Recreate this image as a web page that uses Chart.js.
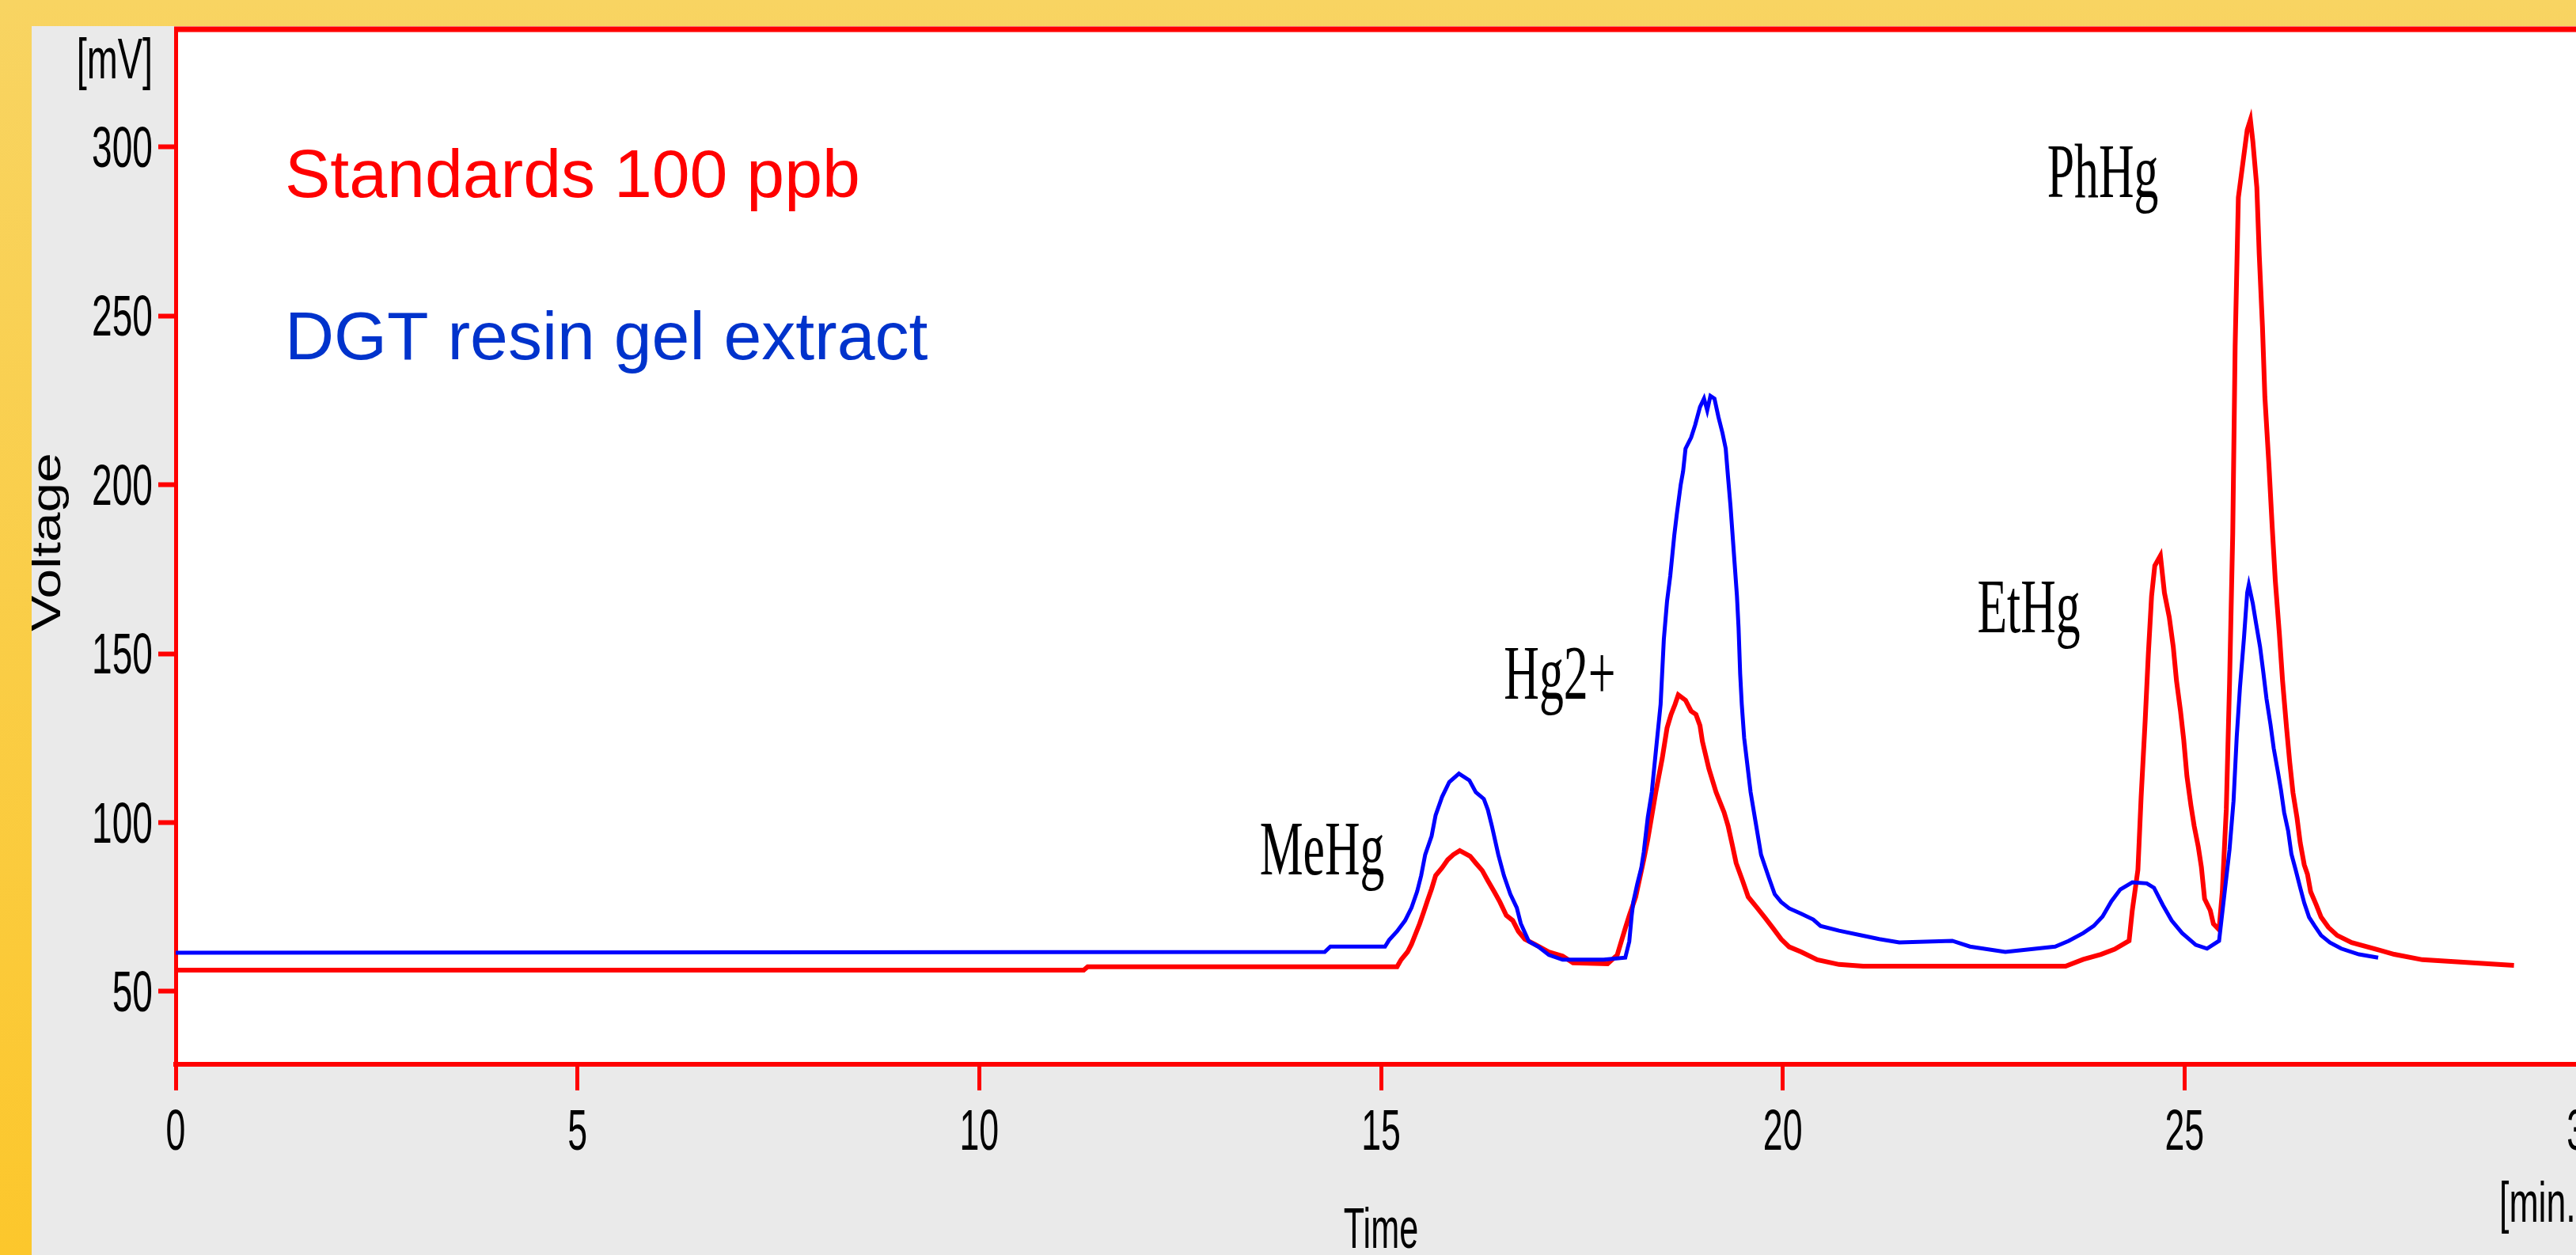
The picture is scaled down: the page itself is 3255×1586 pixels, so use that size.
<!DOCTYPE html>
<html>
<head>
<meta charset="utf-8">
<title>Hg species chromatogram</title>
<script src="https://cdn.jsdelivr.net/npm/chart.js"></script>
<style>
  html, body {
    margin: 0;
    width: 3255px;
    height: 1586px;
    overflow: hidden;
    background: linear-gradient(#f8d462, #fcc72c);
  }
  #chart {
    position: absolute;
    left: 40px;
    top: 33px;
    background: #eaeaea;
  }
</style>
</head>
<body>
<canvas id="chart" width="3270" height="1553" style="width:3270px;height:1553px"></canvas>
<script>
// series names and peak names
const seriesNames = ['Standards 100 ppb', 'DGT resin gel extract'];
const peakNames = ['MeHg', 'Hg2+', 'EtHg', 'PhHg'];

// axis ticks
const xTicks = [0, 5, 10, 15, 20, 25, 30];
const yTicks = [50, 100, 150, 200, 250, 300];

// Standards 100 ppb (red), time in min, signal in mV
const stdTime = [0, 11.3, 11.35, 15.2, 15.25, 15.33, 15.38, 15.43, 15.48, 15.53, 15.58, 15.63, 15.68, 15.76, 15.83, 15.9, 15.98,
  16.11, 16.18, 16.26, 16.33, 16.41, 16.48, 16.56, 16.64, 16.71, 16.79, 16.91, 17.09, 17.26, 17.39, 17.82, 17.94,
  18.04, 18.09, 18.17, 18.22, 18.27, 18.32, 18.37, 18.42, 18.5, 18.56, 18.61, 18.66, 18.7, 18.79, 18.86, 18.92, 18.97,
  19.0, 19.08, 19.17, 19.27, 19.32, 19.37, 19.42, 19.5, 19.57, 19.68, 19.78, 19.88, 19.98, 20.08, 20.23, 20.43, 20.7,
  21.0, 23.52, 23.74, 23.96, 24.13, 24.31, 24.35, 24.42, 24.46, 24.51, 24.55, 24.59, 24.63, 24.7, 24.75, 24.81, 24.86,
  24.9, 24.95, 24.99, 25.03, 25.08, 25.12, 25.17, 25.21, 25.25, 25.32, 25.36, 25.43, 25.47, 25.52, 25.56, 25.6, 25.63,
  25.67, 25.78, 25.82, 25.85, 25.9, 25.93, 25.97, 26.0, 26.05, 26.09, 26.13, 26.18, 26.22, 26.27, 26.31, 26.35, 26.4,
  26.44, 26.49, 26.53, 26.57, 26.64, 26.7, 26.79, 26.9, 27.08, 27.43, 27.61, 27.96, 29.1];
const stdMv = [56.3, 56.3, 57.3, 57.3, 59.4, 61.7, 64, 67, 70, 73.4, 77, 80.4, 84.3, 86.6, 89, 90.5, 91.7,
  90, 88, 85.8, 82.8, 79.5, 76.5, 72.5, 71, 67.8, 65.5, 64, 61.7, 60.5, 58.5, 58.2, 60.8,
  68.7, 72.5, 78, 83.5, 89, 95, 102, 109, 119, 128, 132, 135, 137.8, 136.2, 133, 132, 128.7,
  124, 116, 109, 103, 99, 93.6, 88, 82.8, 78, 74.8, 71.8, 68.7, 65.5, 63.2, 61.7, 59.4, 58,
  57.5, 57.5, 59.5, 61, 62.5, 65, 74, 86, 107.6, 130, 150, 167, 176, 179, 168, 160.8, 152, 142,
  133, 124.5, 113.7, 105, 99, 93, 86.8, 77.4, 74, 70, 68.3, 79.5, 104, 141, 185.5, 241, 285,
  305, 308, 301.7, 288, 268, 246.7, 226, 206, 188, 171.5, 156, 142, 128, 117.7, 108.8, 101.4, 94,
  87.5, 84.7, 79.5, 75.6, 72, 69, 66.6, 64.5, 62.2, 61, 59.4, 57.7, 57.7];

// DGT resin gel extract (blue)
const dgtTime = [0, 14.3, 14.37, 15.05, 15.1, 15.2, 15.3, 15.38, 15.45, 15.5, 15.55, 15.63, 15.68, 15.76, 15.85, 15.97,
  16.1, 16.18, 16.28, 16.33, 16.38, 16.46, 16.53, 16.61, 16.69, 16.74, 16.84, 16.96, 17.09, 17.26, 17.77,
  18.04, 18.09, 18.12, 18.14, 18.19, 18.24, 18.27, 18.32, 18.37, 18.43, 18.48, 18.52, 18.56, 18.6, 18.65, 18.68,
  18.73, 18.76, 18.79, 18.86, 18.91, 18.97, 19.02, 19.06, 19.1, 19.15, 19.2, 19.25, 19.29, 19.32, 19.35, 19.4,
  19.43, 19.45, 19.47, 19.49, 19.52, 19.6, 19.67, 19.73, 19.83, 19.9, 19.98, 20.08, 20.23, 20.38, 20.47, 20.7,
  21.0, 21.2, 21.45, 22.11, 22.33, 22.77, 23.39, 23.56, 23.74, 23.87, 23.98, 24.09, 24.2, 24.35, 24.53, 24.62,
  24.73, 24.84, 24.97, 25.14, 25.28, 25.43, 25.5, 25.56, 25.61, 25.65, 25.69, 25.74, 25.78, 25.8, 25.85, 25.89,
  25.94, 25.98, 26.02, 26.07, 26.11, 26.16, 26.2, 26.24, 26.29, 26.33, 26.38, 26.44, 26.49, 26.55, 26.62, 26.7,
  26.81, 26.95, 27.17, 27.41];
const dgtMv = [61.5, 61.7, 63.3, 63.3, 65.2, 67.8, 71, 74.8, 79.6, 84.3, 90.5, 96, 102.2, 107.6, 112, 114.5,
  112.5, 109, 107, 103.8, 99, 90.5, 84.3, 78.8, 74.8, 70.1, 64.8, 63.2, 60.8, 59.4, 59.4,
  60, 64.8, 72.5, 76.5, 81.9, 86.6, 91.2, 101.5, 109, 123.3, 135, 154.2, 165.5, 173, 185, 191,
  200, 204, 210.7, 214, 217.7, 223, 225.5, 222, 226.3, 225.5, 220, 215.3, 210.7, 202, 193.6, 177,
  167, 157.7, 144, 135, 125, 109, 99, 90.5, 83.5, 78.8, 76.5, 74.6, 73, 71.3, 69.4, 68,
  66.5, 65.5, 64.5, 65, 63.3, 61.7, 63.3, 65, 67.3, 69.4, 72.2, 76.7, 80.2, 82.3, 82, 80.7,
  75.6, 71, 67.3, 63.8, 62.7, 65, 79.5, 92, 106.4, 125.5, 140, 154.7, 168, 170.4, 164.8, 159,
  152, 144.6, 136.7, 129, 122, 115.3, 109.7, 103, 97.5, 90.7, 86.3, 80.7, 76.2, 72, 69.4, 66.6,
  64.5, 62.7, 61, 60];

// where the peak names sit, in axis units (left edge, text baseline)
const peakLabelTime = [13.49, 16.53, 22.42, 23.29];
const peakLabelMv = [84.7, 136.7, 156.3, 285.1];

const RED = '#ff0000';
const BLUE = '#0000ff';
const LEGEND_BLUE = '#0033cc';
const PIXEL_FONT = "'Liberation Sans', Arial, sans-serif";
const SERIF_FONT = "'Liberation Serif', 'Times New Roman', serif";

function toPoints(xs, ys) {
  return xs.map((x, i) => ({ x: x, y: ys[i] }));
}

function drawText(ctx, text, x, y, opts) {
  ctx.save();
  ctx.translate(x, y);
  if (opts.rotate) ctx.rotate(opts.rotate);
  ctx.scale(opts.sx || 1, 1);
  ctx.font = opts.font;
  ctx.fillStyle = opts.color || '#000000';
  ctx.textAlign = opts.align || 'left';
  ctx.textBaseline = 'alphabetic';
  ctx.fillText(text, 0, 0);
  ctx.restore();
}

// white plot area, top frame line and all the text
const decorations = {
  id: 'decorations',
  beforeDraw(chart) {
    const { ctx, chartArea: a } = chart;
    ctx.save();
    ctx.fillStyle = '#ffffff';
    ctx.fillRect(a.left, a.top, a.right - a.left, a.bottom - a.top);
    ctx.restore();
  },
  afterDraw(chart) {
    const { ctx, chartArea: a } = chart;
    const xs = chart.scales.x;
    const ys = chart.scales.y;
    const tickFont = '72px ' + PIXEL_FONT;

    ctx.save();
    ctx.strokeStyle = RED;
    ctx.lineWidth = 7;
    ctx.beginPath();
    ctx.moveTo(a.left - 2, a.top);
    ctx.lineTo(chart.width, a.top);
    ctx.stroke();
    ctx.restore();

    ys.ticks.forEach(t => {
      drawText(ctx, String(t.value), a.left - 29, ys.getPixelForValue(t.value) + 25,
        { font: tickFont, sx: 0.64, align: 'right' });
    });
    xs.ticks.forEach(t => {
      drawText(ctx, String(t.value), xs.getPixelForValue(t.value), a.bottom + 108,
        { font: tickFont, sx: 0.62, align: 'center' });
    });

    drawText(ctx, '[mV]', a.left - 29, a.top + 62, { font: tickFont, sx: 0.65, align: 'right' });
    drawText(ctx, 'Time', (a.left + a.right) / 2, a.bottom + 232, { font: tickFont, sx: 0.6, align: 'center' });
    drawText(ctx, '[min.]', a.right - 110, a.bottom + 199, { font: tickFont, sx: 0.62 });
    drawText(ctx, 'Voltage', 36, (a.top + a.bottom) / 2 - 6,
      { font: '52px ' + PIXEL_FONT, sx: 1.3, align: 'center', rotate: -Math.PI / 2 });

    drawText(ctx, seriesNames[0], a.left + 138, a.top + 212, { font: '86px ' + PIXEL_FONT, color: RED });
    drawText(ctx, seriesNames[1], a.left + 138, a.top + 417, { font: '86px ' + PIXEL_FONT, color: LEGEND_BLUE });

    peakNames.forEach((name, i) => {
      drawText(ctx, name, xs.getPixelForValue(peakLabelTime[i]), ys.getPixelForValue(peakLabelMv[i]),
        { font: '98px ' + SERIF_FONT, sx: 0.63 });
    });
  }
};

const config = {
  type: 'line',
  data: {
    datasets: [
      {
        label: seriesNames[1],
        data: toPoints(dgtTime, dgtMv),
        borderColor: BLUE,
        borderWidth: 5,
        pointRadius: 0,
        fill: false,
        tension: 0,
        order: 0
      },
      {
        label: seriesNames[0],
        data: toPoints(stdTime, stdMv),
        borderColor: RED,
        borderWidth: 6,
        pointRadius: 0,
        fill: false,
        tension: 0,
        order: 1
      }
    ]
  },
  options: {
    responsive: false,
    animation: false,
    layout: { padding: { left: 0, top: 4, right: 42, bottom: 0 } },
    plugins: {
      legend: { display: false },
      tooltip: { enabled: false }
    },
    scales: {
      x: {
        type: 'linear',
        min: 0,
        max: 30,
        afterBuildTicks: scale => { scale.ticks = xTicks.map(v => ({ value: v })); },
        afterFit: scale => { scale.height = 241; },
        ticks: { display: false },
        grid: { drawOnChartArea: false, drawTicks: true, tickLength: 33, tickWidth: 5, tickColor: RED },
        border: { display: true, color: RED, width: 6 }
      },
      y: {
        type: 'linear',
        min: 28.45,
        max: 334.8,
        afterBuildTicks: scale => { scale.ticks = yTicks.map(v => ({ value: v })); },
        afterFit: scale => { scale.width = 182; },
        ticks: { display: false },
        grid: { drawOnChartArea: false, drawTicks: true, tickLength: 22, tickWidth: 6, tickColor: RED },
        border: { display: true, color: RED, width: 5 }
      }
    }
  },
  plugins: [decorations]
};

const myChart = new Chart(document.getElementById('chart'), config);
</script>
</body>
</html>
